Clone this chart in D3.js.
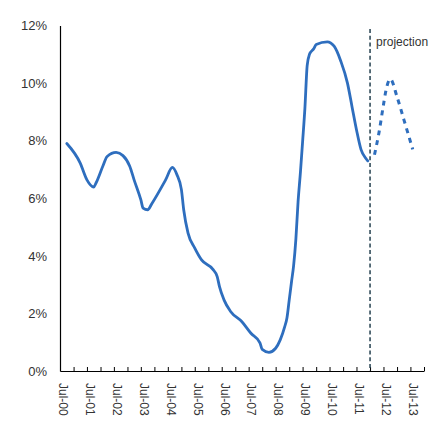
<!DOCTYPE html>
<html>
<head>
<meta charset="utf-8">
<script src="https://cdn.jsdelivr.net/npm/d3@7"></script>
<style>
  html, body { margin: 0; padding: 0; background: #fff; }
  svg { display: block; font-family: "Liberation Sans", Arial, sans-serif; }
</style>
</head>
<body>
<svg id="chart" width="433" height="421"></svg>
<script>
// Unemployment rate, monthly readings (month, percent)
const actualMonths = [
  "2000-10","2001-04","2001-07","2001-10","2001-11","2002-02","2002-04","2002-08","2002-11",
  "2003-02","2003-04","2003-07","2003-08","2003-10","2003-12","2004-06","2004-09","2004-11",
  "2005-01","2005-02","2005-04","2005-07","2005-10","2006-03","2006-05","2006-06","2006-08",
  "2006-11","2007-04","2007-08","2007-12","2008-01","2008-04","2008-07","2008-09","2008-11",
  "2008-12","2009-01","2009-02","2009-03","2009-04","2009-05","2009-06","2009-07","2009-08",
  "2009-09","2009-10","2009-12","2010-01","2010-06","2010-09","2010-12","2011-03","2011-05",
  "2011-07","2011-09","2011-11","2011-12"
];
const actualValues = [
  7.90, 7.22, 6.64, 6.39, 6.53, 7.11, 7.45, 7.59, 7.48,
  7.11, 6.64, 5.95, 5.66, 5.60, 5.83, 6.64, 7.07, 6.82,
  6.30, 5.60, 4.79, 4.27, 3.86, 3.54, 3.28, 2.93, 2.47,
  2.06, 1.71, 1.31, 0.98, 0.75, 0.65, 0.79, 1.08, 1.54,
  1.84, 2.47, 3.10, 3.65, 4.58, 5.89, 6.88, 7.96, 9.11,
  10.61, 10.99, 11.20, 11.34, 11.43, 11.28, 10.76, 10.00, 9.19,
  8.38, 7.69, 7.40, 7.30
];

// Projected path
const projectionMonths = ["2012-03","2012-05","2012-07","2012-08","2012-10","2013-01","2013-04","2013-08"];
const projectionValues = [7.51, 8.28, 9.25, 9.71, 10.14, 9.52, 8.75, 7.70];

const projectionStart = "2012-01";
const projectionLabel = "projection";

const yTickValues = [0, 2, 4, 6, 8, 10, 12];
const xStart = "2000-07";
const xEnd = "2014-01";

const parseMonth = d3.timeParse("%Y-%m");
const fmtLabel = d3.timeFormat("%b-%y");
const fmtPct = d => d + "%";

const svg = d3.select("#chart");

const x = d3.scaleTime()
  .domain([parseMonth(xStart), parseMonth(xEnd)])
  .range([60, 424]);

const y = d3.scaleLinear()
  .domain([0, 12])
  .range([371, 25.5]);

const textColor = "#333";
const lineColor = "#2e6ebe";

// Y axis
const yAxis = svg.append("g")
  .attr("transform", `translate(${x.range()[0]},0)`)
  .call(d3.axisLeft(y).tickValues(yTickValues).tickFormat(fmtPct).tickSize(0).tickPadding(13).tickSizeOuter(0));
yAxis.select(".domain").attr("stroke", "#000").attr("stroke-width", 1.2);
yAxis.selectAll("text")
  .attr("font-size", 13)
  .attr("fill", textColor)
  .attr("font-family", "Liberation Sans, Arial, sans-serif");

// X axis: ticks every six months, labels every July
const halfYears = d3.timeMonth.every(6).range(parseMonth(xStart), d3.timeMonth.offset(parseMonth(xEnd), 1));
const xAxis = svg.append("g")
  .attr("transform", `translate(0,${y(0)})`)
  .call(d3.axisBottom(x)
    .tickValues(halfYears)
    .tickSize(-4)
    .tickSizeOuter(0)
    .tickFormat(d => d.getMonth() === 6 ? fmtLabel(d) : ""));
xAxis.select(".domain").attr("stroke", "#000").attr("stroke-width", 1.2);
xAxis.selectAll(".tick line").attr("stroke", "#000").attr("stroke-width", 1);
xAxis.selectAll("text")
  .attr("transform", "rotate(90)")
  .attr("x", 12)
  .attr("y", -2.5)
  .attr("dy", "0.35em")
  .attr("text-anchor", "start")
  .attr("font-size", 12)
  .attr("fill", textColor)
  .attr("font-family", "Liberation Sans, Arial, sans-serif");

// Projection divider
const px = x(parseMonth(projectionStart));
svg.append("line")
  .attr("x1", px).attr("x2", px)
  .attr("y1", 29).attr("y2", y(0))
  .attr("stroke", "#24404f")
  .attr("stroke-width", 1.5)
  .attr("stroke-dasharray", "4,2.7");

svg.append("text")
  .attr("x", px + 6)
  .attr("y", 46)
  .attr("font-size", 12)
  .attr("fill", textColor)
  .text(projectionLabel);

// Lines
const line = d3.line()
  .x(d => x(d[0]))
  .y(d => y(d[1]))
  .curve(d3.curveMonotoneX);

const actual = actualMonths.map((m, i) => [parseMonth(m), actualValues[i]]);
const projected = projectionMonths.map((m, i) => [parseMonth(m), projectionValues[i]]);

svg.append("path")
  .datum(actual)
  .attr("fill", "none")
  .attr("stroke", lineColor)
  .attr("stroke-width", 2.8)
  .attr("stroke-linejoin", "round")
  .attr("stroke-linecap", "round")
  .attr("d", line);

svg.append("path")
  .datum(projected)
  .attr("fill", "none")
  .attr("stroke", lineColor)
  .attr("stroke-width", 3)
  .attr("stroke-dasharray", "5,5")
  .attr("d", line);
</script>
</body>
</html>
